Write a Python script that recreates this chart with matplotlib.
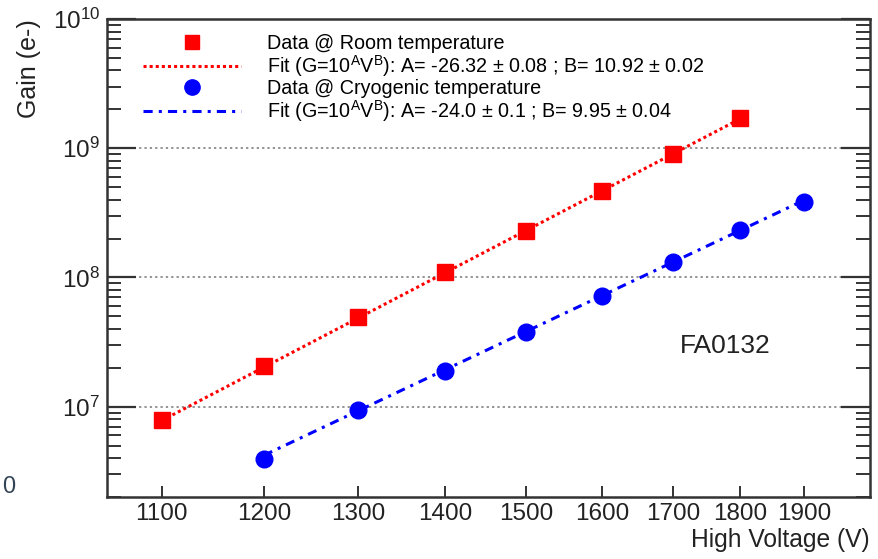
import numpy as np
import matplotlib
matplotlib.use("Agg")
import matplotlib.pyplot as plt
import matplotlib.ticker as mt
from matplotlib.lines import Line2D

plt.rcParams["font.family"] = ["Liberation Sans", "DejaVu Sans"]
plt.rcParams["mathtext.fontset"] = "custom"
plt.rcParams["mathtext.rm"] = "Liberation Sans"
plt.rcParams["mathtext.it"] = "Liberation Sans:italic"

# data
hv_room = [1100, 1200, 1300, 1400, 1500, 1600, 1700, 1800]
gain_room = [7.9e6, 2.07e7, 4.95e7, 1.1e8, 2.3e8, 4.7e8, 9.1e8, 1.7e9]
hv_cryo = [1200, 1300, 1400, 1500, 1600, 1700, 1800, 1900]
gain_cryo = [3.9e6, 9.5e6, 1.9e7, 3.8e7, 7.2e7, 1.32e8, 2.33e8, 3.83e8]

# fit lines (straight on log-log), end points
fit_room_x = [1100, 1800]
fit_room_y = [7.8e6, 1.69e9]
fit_cryo_x = [1200, 1900]
fit_cryo_y = [4.2e6, 3.95e8]

xticks = [1100, 1200, 1300, 1400, 1500, 1600, 1700, 1800, 1900]

lab_room = "Data @ Room temperature"
lab_fit_room = r"Fit (G=10$^{\mathrm{A}}$V$^{\mathrm{B}}$): A= -26.32 $\pm$ 0.08 ; B= 10.92 $\pm$ 0.02"
lab_cryo = "Data @ Cryogenic temperature"
lab_fit_cryo = r"Fit (G=10$^{\mathrm{A}}$V$^{\mathrm{B}}$): A= -24.0 $\pm$ 0.1 ; B= 9.95 $\pm$ 0.04"

fig = plt.figure(figsize=(8.79, 5.59), dpi=100)
ax = fig.add_axes([0.1217, 0.111, 0.868, 0.855])

ax.set_xscale("log")
ax.set_yscale("log")
ax.set_xlim(1050, 2010)
ax.set_ylim(2e6, 1e10)

ax.plot(fit_room_x, fit_room_y, color="#ff0000", ls=(0, (1, 1)), lw=2.2, zorder=2)
ax.plot(fit_cryo_x, fit_cryo_y, color="#0000ff", ls=(0, (3, 2, 1, 2)), lw=2.2, zorder=2)
ax.plot(hv_room, gain_room, "s", color="#ff0000", ms=11.5, mec="#ff0000", zorder=3)
ax.plot(hv_cryo, gain_cryo, "o", color="#0000ff", ms=12, mec="#0000ff", zorder=3)

for v in [1e7, 1e8, 1e9]:
    ax.axhline(v, color="#777777", ls=(0, (1.5, 2)), lw=1.1, zorder=1)

ax.xaxis.set_major_locator(mt.FixedLocator(xticks))
ax.xaxis.set_major_formatter(mt.FixedFormatter([str(t) for t in xticks]))
ax.xaxis.set_minor_locator(mt.NullLocator())
ax.yaxis.set_major_locator(mt.LogLocator(base=10))
ax.yaxis.set_minor_locator(mt.LogLocator(base=10, subs=np.arange(2, 10)))
ax.yaxis.set_minor_formatter(mt.NullFormatter())

ax.tick_params(axis="x", which="major", direction="in", length=8, width=1.4,
               labelsize=17.5, pad=4, colors="#333333", labelcolor="#222222")
ax.tick_params(axis="y", which="major", direction="in", length=21, width=1.6,
               labelsize=17.5, pad=5, left=True, right=True, colors="#333333", labelcolor="#222222")
ax.tick_params(axis="y", which="minor", direction="in", length=10, width=1.4,
               left=True, right=True, colors="#333333")

for s in ax.spines.values():
    s.set_linewidth(1.8)
    s.set_color("#333333")

ax.set_ylabel("Gain (e-)", fontsize=18, color="#222222", ha="right")
ax.yaxis.set_label_coords(-0.086, 1.0)
ax.set_xlabel("High Voltage (V)", fontsize=17.7, color="#222222", ha="right", va="top")
ax.xaxis.set_label_coords(1.0, -0.064)

ax.text(0.81, 0.315, "FA0132", transform=ax.transAxes, fontsize=19, color="#222222",
        ha="center", va="center")

handles = [
    Line2D([0], [0], marker="s", color="#ff0000", ls="", ms=10),
    Line2D([0], [0], color="#ff0000", ls=(0, (1, 1)), lw=2.2),
    Line2D([0], [0], marker="o", color="#0000ff", ls="", ms=11),
    Line2D([0], [0], color="#0000ff", ls=(0, (3, 2, 1, 2)), lw=2.2),
]
ax.legend(handles, [lab_room, lab_fit_room, lab_cryo, lab_fit_cryo],
          loc="upper left", bbox_to_anchor=(0.047, 0.968), frameon=False,
          fontsize=14.2, handlelength=5.0, handletextpad=1.3, labelspacing=0.0,
          borderpad=0, borderaxespad=0)

fig.text(0.002, 0.128, "0", fontsize=17, color="#334455", ha="left", va="center")

fig.savefig("out.png", dpi=100)
plt.close(fig)
